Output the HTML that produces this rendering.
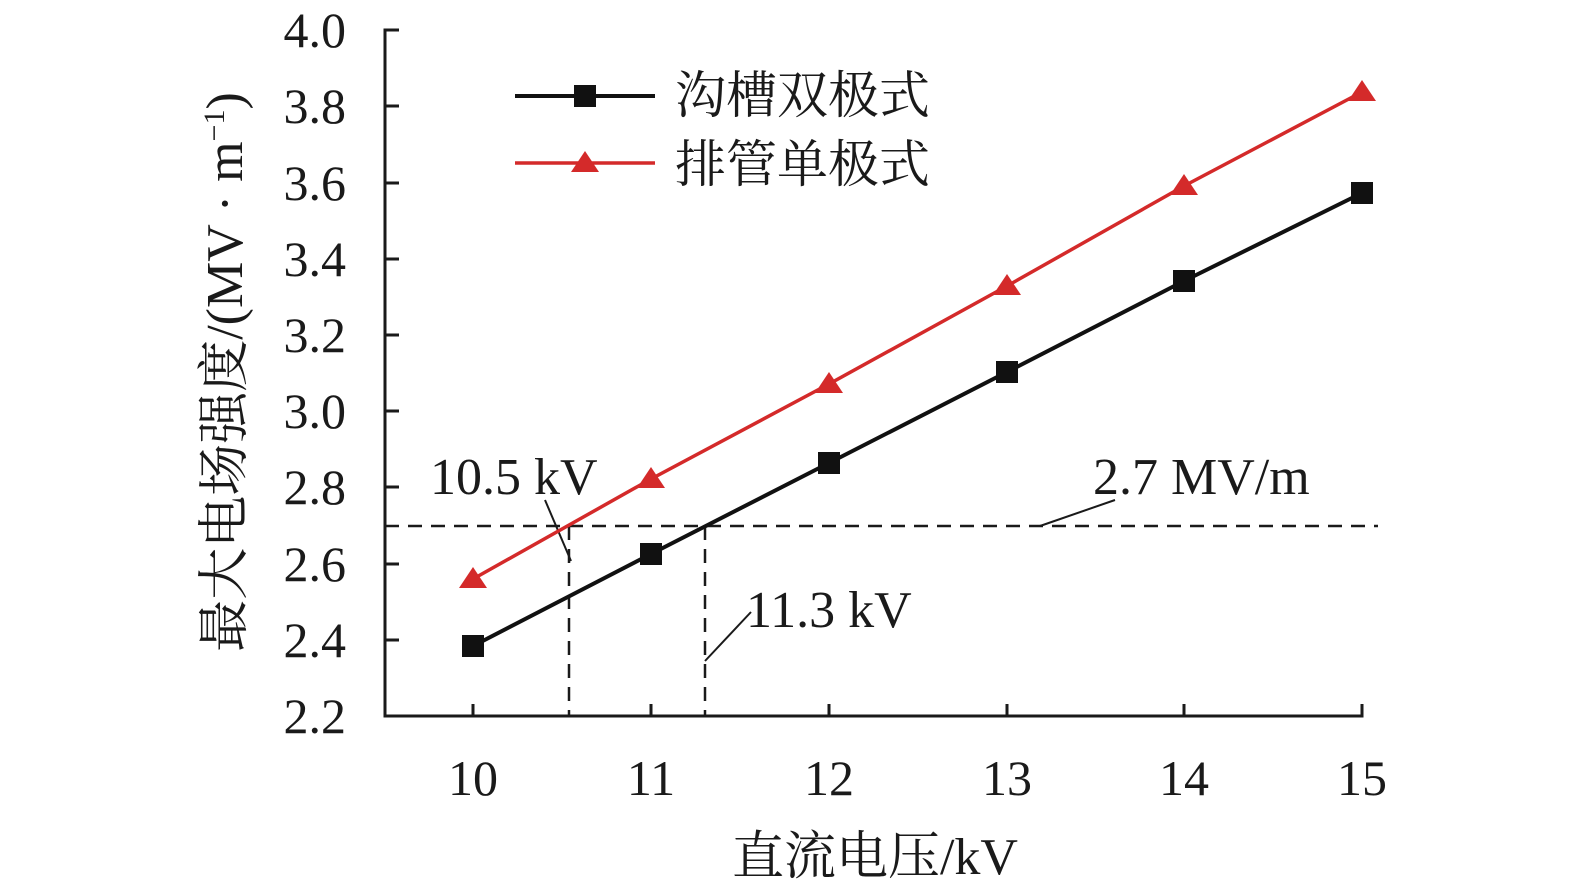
<!DOCTYPE html>
<html><head><meta charset="utf-8"><style>
body{margin:0;background:#fff}
svg{display:block}
text{font-family:"Liberation Serif","Noto Serif CJK SC",serif;fill:#1a1a1a}
</style></head><body>
<svg width="1575" height="896" viewBox="0 0 1575 896">
<g stroke="#1a1a1a" stroke-width="3" fill="none">
<polyline points="399,30 385,30 385,716 1362,716 1362,704"/>
<line x1="385" y1="106" x2="399" y2="106"/><line x1="385" y1="183" x2="399" y2="183"/>
<line x1="385" y1="259" x2="399" y2="259"/><line x1="385" y1="335" x2="399" y2="335"/>
<line x1="385" y1="411" x2="399" y2="411"/><line x1="385" y1="487" x2="399" y2="487"/>
<line x1="385" y1="564" x2="399" y2="564"/><line x1="385" y1="640" x2="399" y2="640"/>
<line x1="473" y1="716" x2="473" y2="704"/><line x1="651" y1="716" x2="651" y2="704"/>
<line x1="829" y1="716" x2="829" y2="704"/><line x1="1007" y1="716" x2="1007" y2="704"/>
<line x1="1184" y1="716" x2="1184" y2="704"/>
</g>
<g stroke="#1a1a1a" stroke-width="2.5" stroke-dasharray="14,9" fill="none">
<line x1="385" y1="526" x2="1378" y2="526"/>
<line x1="569" y1="526" x2="569" y2="716"/>
<line x1="705" y1="526" x2="705" y2="716"/>
</g>
<g stroke="#1a1a1a" stroke-width="2" fill="none">
<line x1="545" y1="500" x2="571" y2="561"/>
<line x1="705" y1="661" x2="751" y2="612"/>
<line x1="1040" y1="526" x2="1115" y2="500"/>
</g>
<polyline points="473,646 651,554 829,463 1007,372 1184,281 1362,193" stroke="#111" stroke-width="4" fill="none"/>
<polyline points="473,579 651,479 829,384 1007,286 1184,186 1362,92" stroke="#d42a2a" stroke-width="3.5" fill="none"/>
<g fill="#111">
<rect x="462" y="635" width="22" height="22"/><rect x="640" y="543" width="22" height="22"/>
<rect x="818" y="452" width="22" height="22"/><rect x="996" y="361" width="22" height="22"/>
<rect x="1173" y="270" width="22" height="22"/><rect x="1351" y="182" width="22" height="22"/>
<rect x="574" y="85" width="22" height="22"/>
</g>
<g fill="#d42a2a">
<polygon points="473,567 459,588 487,588"/><polygon points="651,467 637,488 665,488"/>
<polygon points="829,372 815,393 843,393"/><polygon points="1007,274 993,295 1021,295"/>
<polygon points="1184,174 1170,195 1198,195"/><polygon points="1362,80 1348,101 1376,101"/>
<polygon points="585,151 571,172 599,172"/>
</g>
<line x1="515" y1="96" x2="655" y2="96" stroke="#111" stroke-width="4"/>
<line x1="515" y1="163" x2="655" y2="163" stroke="#d42a2a" stroke-width="3.5"/>
<text x="675" y="113" font-size="51">沟槽双极式</text>
<text x="675" y="182" font-size="51">排管单极式</text>
<g font-size="50" text-anchor="end">
<text x="346" y="47">4.0</text><text x="346" y="123">3.8</text><text x="346" y="200">3.6</text>
<text x="346" y="276">3.4</text><text x="346" y="352">3.2</text><text x="346" y="428">3.0</text>
<text x="346" y="504">2.8</text><text x="346" y="581">2.6</text><text x="346" y="657">2.4</text>
<text x="346" y="733">2.2</text>
</g>
<g font-size="50" text-anchor="middle">
<text x="473" y="795">10</text><text x="651" y="795">11</text><text x="829" y="795">12</text>
<text x="1007" y="795">13</text><text x="1184" y="795">14</text><text x="1362" y="795">15</text>
</g>
<text x="430" y="494" font-size="52">10.5 kV</text>
<text x="746" y="627" font-size="52">11.3 kV</text>
<text x="1093" y="494" font-size="52">2.7 MV/m</text>
<text x="875" y="874" font-size="52" text-anchor="middle">直流电压/kV</text>
<text transform="translate(242,372) rotate(-90)" font-size="52" text-anchor="middle">最大电场强度/(MV · m<tspan font-size="30" dy="-18">−1</tspan><tspan dy="18">)</tspan></text>
</svg>
</body></html>
